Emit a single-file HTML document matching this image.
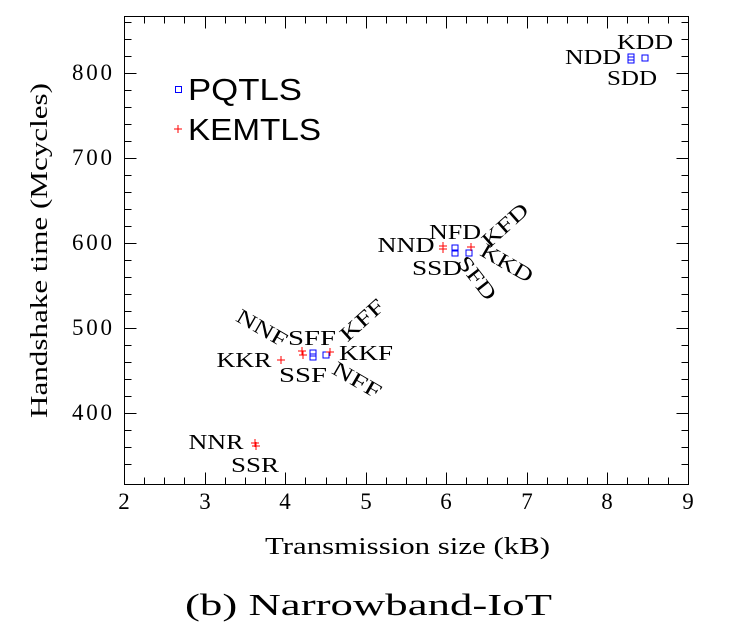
<!DOCTYPE html>
<html><head><meta charset="utf-8"><style>
html,body{margin:0;padding:0;background:#fff;width:734px;height:643px;overflow:hidden}
text{font-family:"Liberation Serif",serif;fill:#000}
</style></head><body>
<svg width="734" height="643" viewBox="0 0 734 643" xmlns="http://www.w3.org/2000/svg">
<rect x="124.5" y="16.5" width="564" height="468" fill="none" stroke="#000"/>
<g stroke="#000" stroke-width="1">
<path d="M124.5 484.5v-12M144.5 484.5v-7M164.5 484.5v-7M184.5 484.5v-7M205.5 484.5v-12M225.5 484.5v-7M245.5 484.5v-7M265.5 484.5v-7M285.5 484.5v-12M305.5 484.5v-7M326.5 484.5v-7M346.5 484.5v-7M366.5 484.5v-12M386.5 484.5v-7M406.5 484.5v-7M426.5 484.5v-7M446.5 484.5v-12M466.5 484.5v-7M487.5 484.5v-7M507.5 484.5v-7M527.5 484.5v-12M547.5 484.5v-7M567.5 484.5v-7M587.5 484.5v-7M607.5 484.5v-12M627.5 484.5v-7M648.5 484.5v-7M668.5 484.5v-7"/>
<path d="M124.5 16.5v12M144.5 16.5v7M164.5 16.5v7M184.5 16.5v7M205.5 16.5v12M225.5 16.5v7M245.5 16.5v7M265.5 16.5v7M285.5 16.5v12M305.5 16.5v7M326.5 16.5v7M346.5 16.5v7M366.5 16.5v12M386.5 16.5v7M406.5 16.5v7M426.5 16.5v7M446.5 16.5v12M466.5 16.5v7M487.5 16.5v7M507.5 16.5v7M527.5 16.5v12M547.5 16.5v7M567.5 16.5v7M587.5 16.5v7M607.5 16.5v12M627.5 16.5v7M648.5 16.5v7M668.5 16.5v7"/>
<path d="M124.5 464.5h7M124.5 447.5h7M124.5 430.5h7M124.5 413.5h12M124.5 396.5h7M124.5 379.5h7M124.5 362.5h7M124.5 345.5h7M124.5 328.5h12M124.5 311.5h7M124.5 294.5h7M124.5 277.5h7M124.5 260.5h7M124.5 243.5h12M124.5 226.5h7M124.5 209.5h7M124.5 192.5h7M124.5 175.5h7M124.5 158.5h12M124.5 141.5h7M124.5 124.5h7M124.5 107.5h7M124.5 90.5h7M124.5 73.5h12M124.5 56.5h7M124.5 39.5h7M124.5 22.5h7"/>
<path d="M688.5 464.5h-7M688.5 447.5h-7M688.5 430.5h-7M688.5 413.5h-12M688.5 396.5h-7M688.5 379.5h-7M688.5 362.5h-7M688.5 345.5h-7M688.5 328.5h-12M688.5 311.5h-7M688.5 294.5h-7M688.5 277.5h-7M688.5 260.5h-7M688.5 243.5h-12M688.5 226.5h-7M688.5 209.5h-7M688.5 192.5h-7M688.5 175.5h-7M688.5 158.5h-12M688.5 141.5h-7M688.5 124.5h-7M688.5 107.5h-7M688.5 90.5h-7M688.5 73.5h-12M688.5 56.5h-7M688.5 39.5h-7M688.5 22.5h-7"/>
</g>
<g font-size="23" text-anchor="middle">
<text x="124" y="509">2</text><text x="205" y="509">3</text><text x="285" y="509">4</text><text x="366" y="509">5</text><text x="446" y="509">6</text><text x="527" y="509">7</text><text x="607" y="509">8</text><text x="688" y="509">9</text>
</g>
<g font-size="23">
<text x="72" y="420" textLength="40">400</text><text x="72" y="335" textLength="40">500</text><text x="72" y="250" textLength="40">600</text><text x="72" y="165" textLength="40">700</text><text x="72" y="80" textLength="40">800</text>
</g>
<text x="265" y="554" font-size="24" textLength="285" lengthAdjust="spacingAndGlyphs">Transmission size (kB)</text>
<text transform="translate(47,418) rotate(-90)" font-size="24" textLength="335" lengthAdjust="spacingAndGlyphs">Handshake time (Mcycles)</text>
<text x="185" y="615" font-size="31" textLength="367" lengthAdjust="spacingAndGlyphs">(b) Narrowband-IoT</text>
<rect x="175.5" y="86.5" width="6" height="6" fill="none" stroke="#00f"/>
<text x="188" y="100" font-size="31" textLength="114" lengthAdjust="spacingAndGlyphs" style="font-family:'Liberation Sans',sans-serif">PQTLS</text>
<path d="M174 129h8M178 125v8" stroke="#f00"/>
<text x="188" y="140" font-size="31" textLength="133" lengthAdjust="spacingAndGlyphs" style="font-family:'Liberation Sans',sans-serif">KEMTLS</text>
<g fill="none" stroke="#00f">
<rect x="310" y="350" width="6" height="6"/><rect x="310" y="354" width="6" height="6"/><rect x="323" y="352" width="6" height="6"/>
<rect x="452" y="245" width="6" height="6"/><rect x="452" y="250" width="6" height="6"/><rect x="466" y="250" width="6" height="6"/>
<rect x="628" y="54" width="6" height="6"/><rect x="628" y="57" width="6" height="6"/><rect x="642" y="55" width="6" height="6"/>
</g>
<g stroke="#f00">
<path d="M277 360h8M281 356v8"/>
<path d="M298 351h8M302 347v8"/><path d="M299 355h8M303 351v8"/><path d="M326 352h8M330 348v8"/>
<path d="M251 443h8M255 439v8"/><path d="M252 446h8M256 442v8"/>
<path d="M439 246h8M443 242v8"/><path d="M439 249h8M443 245v8"/><path d="M467 247h8M471 243v8"/>
</g>
<g font-size="21" text-anchor="middle" dominant-baseline="central" lengthAdjust="spacingAndGlyphs">
<text transform="translate(262,328) rotate(30)" textLength="55" lengthAdjust="spacingAndGlyphs">NNF</text>
<text x="312" y="338" textLength="48" lengthAdjust="spacingAndGlyphs">SFF</text>
<text x="244" y="360" textLength="55" lengthAdjust="spacingAndGlyphs">KKR</text>
<text x="303" y="375" textLength="48" lengthAdjust="spacingAndGlyphs">SSF</text>
<text x="366" y="353" textLength="54" lengthAdjust="spacingAndGlyphs">KKF</text>
<text transform="translate(357,380) rotate(30)" textLength="53" lengthAdjust="spacingAndGlyphs">NFF</text>
<text transform="translate(362,320) rotate(-42)" textLength="52" lengthAdjust="spacingAndGlyphs">KFF</text>
<text x="216" y="442" textLength="55" lengthAdjust="spacingAndGlyphs">NNR</text>
<text x="255" y="465" textLength="48" lengthAdjust="spacingAndGlyphs">SSR</text>
<text x="406" y="245" textLength="57" lengthAdjust="spacingAndGlyphs">NND</text>
<text x="455" y="232" textLength="52" lengthAdjust="spacingAndGlyphs">NFD</text>
<text x="437" y="268" textLength="50" lengthAdjust="spacingAndGlyphs">SSD</text>
<text transform="translate(505,225) rotate(-42)" textLength="55" lengthAdjust="spacingAndGlyphs">KFD</text>
<text transform="translate(507,263) rotate(30)" textLength="57" lengthAdjust="spacingAndGlyphs">KKD</text>
<text transform="translate(477,278) rotate(52)" textLength="50" lengthAdjust="spacingAndGlyphs">SFD</text>
<text x="645" y="42" textLength="56" lengthAdjust="spacingAndGlyphs">KDD</text>
<text x="593" y="57" textLength="56" lengthAdjust="spacingAndGlyphs">NDD</text>
<text x="632" y="78" textLength="50" lengthAdjust="spacingAndGlyphs">SDD</text>
</g>
</svg>
</body></html>
